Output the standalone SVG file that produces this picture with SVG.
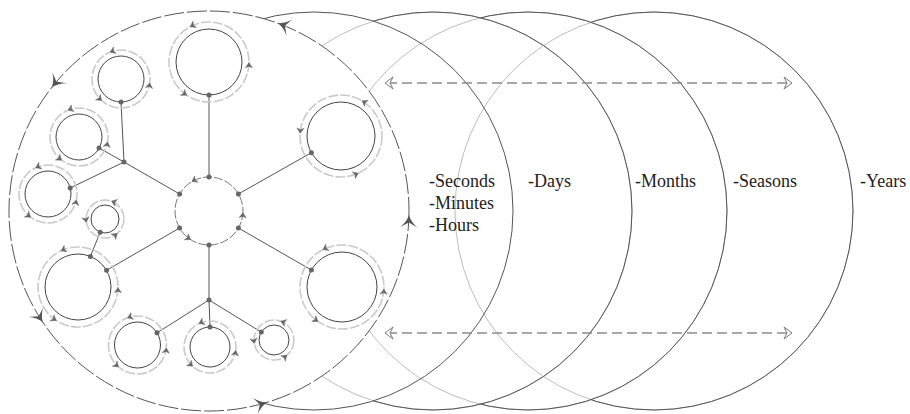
<svg xmlns="http://www.w3.org/2000/svg" xmlns:xlink="http://www.w3.org/1999/xlink" width="910" height="414" viewBox="0 0 910 414">
<style>
.light{fill:none;stroke:#bdbdbd;stroke-width:1}
.dark{fill:none;stroke:#555;stroke-width:1}
.sat{fill:none;stroke:#444;stroke-width:1}
.ring{fill:none;stroke:#cacaca;stroke-width:1.6;stroke-dasharray:10 2}
.spoke{fill:none;stroke:#555;stroke-width:1}
.dot{fill:#666}
.dash{fill:none;stroke:#8a8a8a;stroke-width:1.3;stroke-dasharray:10 5}
.lbl{font-family:"Liberation Serif","Times New Roman",serif;font-size:18px;fill:#222}
</style>
<defs>
<path id="bigah" d="M0,0 C-5,-1 -10,-5 -13,-9 L-8,0 L-13,9 C-10,5 -5,1 0,0 Z" fill="#555"/>
<path id="sa" d="M0,0 L-5,-3.5 L-3.5,0 L-5,3.5 Z" fill="#666" stroke="#666" stroke-width="0.5"/>
<path id="da" d="M0,0 L-8,-6 L-5,0 L-8,6 Z" fill="#fff" stroke="#777" stroke-width="1"/>
<mask id="mC" maskUnits="userSpaceOnUse" x="0" y="0" width="910" height="414">
<rect x="0" y="0" width="910" height="414" fill="#fff"/>
<circle cx="314" cy="211" r="199" fill="#000"/>
</mask>
<mask id="mD" maskUnits="userSpaceOnUse" x="0" y="0" width="910" height="414">
<rect x="0" y="0" width="910" height="414" fill="#fff"/>
<circle cx="314" cy="211" r="199" fill="#000"/>
<circle cx="433" cy="211" r="199" fill="#000"/>
</mask>
<mask id="mE" maskUnits="userSpaceOnUse" x="0" y="0" width="910" height="414">
<rect x="0" y="0" width="910" height="414" fill="#fff"/>
<circle cx="314" cy="211" r="199" fill="#000"/>
<circle cx="433" cy="211" r="199" fill="#000"/>
<circle cx="528" cy="211" r="199" fill="#000"/>
</mask>
</defs>
<rect x="0" y="0" width="910" height="414" fill="#fff"/>

<g id="time-circles">
<circle class="light" cx="433" cy="211" r="199"/>
<circle class="light" cx="528" cy="211" r="199"/>
<circle class="light" cx="654" cy="211" r="199"/>
<circle id="circle-seconds" class="dark" cx="314" cy="211" r="199"/>
<circle id="circle-days" class="dark" cx="433" cy="211" r="199" mask="url(#mC)"/>
<circle id="circle-months" class="dark" cx="528" cy="211" r="199" mask="url(#mD)"/>
<circle id="circle-seasons" class="dark" cx="654" cy="211" r="199" mask="url(#mE)"/>
</g>

<g id="outer-cycle">
<circle cx="209" cy="211" r="200" fill="#fff" stroke="#555" stroke-width="1" stroke-dasharray="20 3"/>
<use href="#bigah" transform="translate(209 211) rotate(-142) translate(200 0) rotate(-90)"/>
<use href="#bigah" transform="translate(209 211) rotate(-70) translate(200 0) rotate(-90)"/>
<use href="#bigah" transform="translate(209 211) rotate(1) translate(200 0) rotate(-90)"/>
<use href="#bigah" transform="translate(209 211) rotate(146) translate(200 0) rotate(-90)"/>
<use href="#bigah" transform="translate(209 211) rotate(73) translate(200 0) rotate(-90)"/>
</g>

<g id="connectors">
<line class="spoke" x1="209" y1="177" x2="209" y2="95"/>
<line class="spoke" x1="179.6" y1="194" x2="124" y2="162"/>
<line class="spoke" x1="124" y1="162" x2="121" y2="102"/>
<line class="spoke" x1="124" y1="162" x2="99" y2="148"/>
<line class="spoke" x1="124" y1="162" x2="70.2" y2="188"/>
<line class="spoke" x1="238.4" y1="194" x2="311.4" y2="152.7"/>
<line class="spoke" x1="238.4" y1="228" x2="311.4" y2="270"/>
<line class="spoke" x1="179.6" y1="228" x2="106.5" y2="270.3"/>
<line class="spoke" x1="90.4" y1="256.4" x2="100.2" y2="232.2"/>
<line class="spoke" x1="209" y1="245" x2="209" y2="300"/>
<line class="spoke" x1="209" y1="300" x2="210" y2="327"/>
<line class="spoke" x1="209" y1="300" x2="157" y2="332.8"/>
<line class="spoke" x1="209" y1="300" x2="261.3" y2="332.1"/>
</g>

<g id="hub">
<circle cx="209" cy="211" r="34" fill="none" stroke="#777" stroke-width="1" stroke-dasharray="9 2"/>
<use href="#sa" transform="translate(209 211) rotate(-120) translate(34 0) rotate(-90)"/>
<use href="#sa" transform="translate(209 211) rotate(3) translate(34 0) rotate(-90)"/>
<use href="#sa" transform="translate(209 211) rotate(123) translate(34 0) rotate(-90)"/>
</g>

<g id="sat-top">
<circle class="ring" cx="209" cy="62" r="40"/>
<circle class="sat" cx="209" cy="62" r="33"/>
<use href="#sa" transform="translate(209 62) rotate(-118) translate(40 0) rotate(-90)"/>
<use href="#sa" transform="translate(209 62) rotate(1) translate(40 0) rotate(-90)"/>
<use href="#sa" transform="translate(209 62) rotate(124) translate(40 0) rotate(-90)"/>
</g>
<g id="sat-ul1">
<circle class="ring" cx="121" cy="79" r="29"/>
<circle class="sat" cx="121" cy="79" r="23"/>
<use href="#sa" transform="translate(121 79) rotate(-112) translate(29 0) rotate(-90)"/>
<use href="#sa" transform="translate(121 79) rotate(8) translate(29 0) rotate(-90)"/>
<use href="#sa" transform="translate(121 79) rotate(132) translate(29 0) rotate(-90)"/>
</g>
<g id="sat-ul2">
<circle class="ring" cx="79" cy="137" r="29"/>
<circle class="sat" cx="79" cy="137" r="23"/>
<use href="#sa" transform="translate(79 137) rotate(-112) translate(29 0) rotate(-90)"/>
<use href="#sa" transform="translate(79 137) rotate(10) translate(29 0) rotate(-90)"/>
<use href="#sa" transform="translate(79 137) rotate(127) translate(29 0) rotate(-90)"/>
</g>
<g id="sat-ul3">
<circle class="ring" cx="48" cy="194" r="29"/>
<circle class="sat" cx="48" cy="194" r="23"/>
<use href="#sa" transform="translate(48 194) rotate(-115) translate(29 0) rotate(-90)"/>
<use href="#sa" transform="translate(48 194) rotate(12) translate(29 0) rotate(-90)"/>
<use href="#sa" transform="translate(48 194) rotate(127) translate(29 0) rotate(-90)"/>
</g>
<g id="sat-small">
<circle class="ring" cx="105" cy="219" r="19"/>
<circle class="sat" cx="105" cy="219" r="14"/>
<use href="#sa" transform="translate(105 219) rotate(-70) translate(19 0) rotate(-90)"/>
<use href="#sa" transform="translate(105 219) rotate(50) translate(19 0) rotate(-90)"/>
<use href="#sa" transform="translate(105 219) rotate(170) translate(19 0) rotate(-90)"/>
</g>
<g id="sat-ll">
<circle class="ring" cx="78" cy="287" r="40"/>
<circle class="sat" cx="78" cy="287" r="33"/>
<use href="#sa" transform="translate(78 287) rotate(-115) translate(40 0) rotate(-90)"/>
<use href="#sa" transform="translate(78 287) rotate(1) translate(40 0) rotate(-90)"/>
<use href="#sa" transform="translate(78 287) rotate(123) translate(40 0) rotate(-90)"/>
</g>
<g id="sat-ur">
<circle class="ring" cx="341" cy="136" r="41"/>
<circle class="sat" cx="341" cy="136" r="34"/>
<use href="#sa" transform="translate(341 136) rotate(-59) translate(41 0) rotate(-90)"/>
<use href="#sa" transform="translate(341 136) rotate(184) translate(41 0) rotate(-90)"/>
<use href="#sa" transform="translate(341 136) rotate(65) translate(41 0) rotate(-90)"/>
</g>
<g id="sat-lr">
<circle class="ring" cx="342" cy="287" r="42"/>
<circle class="sat" cx="342" cy="287" r="35"/>
<use href="#sa" transform="translate(342 287) rotate(-117) translate(42 0) rotate(-90)"/>
<use href="#sa" transform="translate(342 287) rotate(3) translate(42 0) rotate(-90)"/>
<use href="#sa" transform="translate(342 287) rotate(125) translate(42 0) rotate(-90)"/>
</g>
<g id="sat-bl">
<circle class="ring" cx="137.5" cy="345" r="29"/>
<circle class="sat" cx="137.5" cy="345" r="23"/>
<use href="#sa" transform="translate(137.5 345) rotate(-110) translate(29 0) rotate(-90)"/>
<use href="#sa" transform="translate(137.5 345) rotate(6) translate(29 0) rotate(-90)"/>
<use href="#sa" transform="translate(137.5 345) rotate(131) translate(29 0) rotate(-90)"/>
</g>
<g id="sat-bm">
<circle class="ring" cx="210" cy="347" r="26"/>
<circle class="sat" cx="210" cy="347" r="20"/>
<use href="#sa" transform="translate(210 347) rotate(-115) translate(26 0) rotate(-90)"/>
<use href="#sa" transform="translate(210 347) rotate(8) translate(26 0) rotate(-90)"/>
<use href="#sa" transform="translate(210 347) rotate(132) translate(26 0) rotate(-90)"/>
</g>
<g id="sat-br">
<circle class="ring" cx="274" cy="340" r="20"/>
<circle class="sat" cx="274" cy="340" r="15"/>
<use href="#sa" transform="translate(274 340) rotate(-70) translate(20 0) rotate(-90)"/>
<use href="#sa" transform="translate(274 340) rotate(50) translate(20 0) rotate(-90)"/>
<use href="#sa" transform="translate(274 340) rotate(170) translate(20 0) rotate(-90)"/>
</g>

<g id="nodes">
<circle class="dot" cx="209" cy="177" r="2.5"/>
<circle class="dot" cx="179.6" cy="194" r="2.5"/>
<circle class="dot" cx="238.4" cy="194" r="2.5"/>
<circle class="dot" cx="179.6" cy="228" r="2.5"/>
<circle class="dot" cx="238.4" cy="228" r="2.5"/>
<circle class="dot" cx="209" cy="245" r="2.5"/>
<circle class="dot" cx="209" cy="95" r="2.5"/>
<circle class="dot" cx="124" cy="162" r="2.5"/>
<circle class="dot" cx="121" cy="102" r="2.5"/>
<circle class="dot" cx="99" cy="148" r="2.5"/>
<circle class="dot" cx="70.2" cy="188" r="2.5"/>
<circle class="dot" cx="311.4" cy="152.7" r="2.5"/>
<circle class="dot" cx="311.4" cy="270" r="2.5"/>
<circle class="dot" cx="106.5" cy="270.3" r="2.5"/>
<circle class="dot" cx="90.4" cy="256.4" r="2.5"/>
<circle class="dot" cx="100.2" cy="232.2" r="2.5"/>
<circle class="dot" cx="209" cy="300" r="2.5"/>
<circle class="dot" cx="210" cy="327" r="2.5"/>
<circle class="dot" cx="157" cy="332.8" r="2.5"/>
<circle class="dot" cx="261.3" cy="332.1" r="2.5"/>
</g>

<g id="span-arrows">
<line class="dash" x1="387" y1="83" x2="790" y2="83"/>
<use href="#da" transform="translate(385 83) rotate(180)"/>
<use href="#da" transform="translate(792 83)"/>
<line class="dash" x1="387" y1="333" x2="790" y2="333"/>
<use href="#da" transform="translate(385 333) rotate(180)"/>
<use href="#da" transform="translate(792 333)"/>
</g>

<g id="labels">
<text class="lbl" x="429" y="187">-Seconds</text>
<text class="lbl" x="429" y="209">-Minutes</text>
<text class="lbl" x="429" y="231">-Hours</text>
<text class="lbl" x="528" y="187">-Days</text>
<text class="lbl" x="635" y="187">-Months</text>
<text class="lbl" x="733" y="187">-Seasons</text>
<text class="lbl" x="860" y="187">-Years</text>
</g>
</svg>
